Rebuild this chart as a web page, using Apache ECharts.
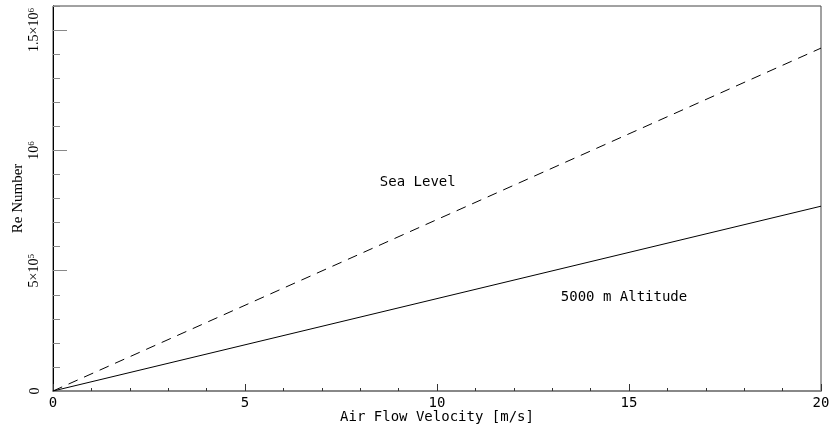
<!DOCTYPE html>
<html>
<head>
<meta charset="utf-8">
<script src="https://cdn.jsdelivr.net/npm/echarts@6/dist/echarts.min.js"></script>
<style>
  html, body { margin: 0; padding: 0; background: #fff; }
  #chart { width: 832px; height: 428px; }
</style>
</head>
<body>
<div id="chart"></div>
<script>
// values
const velocity = [0, 20];
const seaLevel = [0, 1425000];
const altitude5000 = [0, 768000];
const yLabelValues = [0, 500000, 1000000, 1500000];

const monoFont = 'DejaVu Sans Mono';
const serifFont = 'Liberation Serif';

const toPairs = (ys) => velocity.map((v, i) => [v, ys[i]]);

// y tick text like 5×10^5
const yLabel = function (v) {
    if (v === 0) return '0';
    if (v === 500000) return '5×10{sup|5}';
    if (v === 1000000) return '10{sup|6}';
    if (v === 1500000) return '1.5×10{sup|6}';
    return '';
};

const textMark = (text, coord) => ({
    symbol: 'circle',
    symbolSize: 1,
    itemStyle: { color: 'rgba(0,0,0,0)' },
    label: { show: true, position: 'inside', formatter: text, fontFamily: monoFont, fontSize: 14, color: '#000' },
    data: [{ coord: coord }]
});

const chart = echarts.init(document.getElementById('chart'));
const option = {
    animation: false,
    grid: {
        left: 53, right: 11, top: 6, bottom: 37,
        outerBoundsMode: 'none',
        containLabel: false,
        show: true,
        borderColor: '#444',
        borderWidth: 1
    },
    xAxis: [{
        type: 'value',
        min: 0, max: 20, interval: 5,
        name: 'Air Flow Velocity [m/s]',
        nameLocation: 'middle',
        nameGap: 19,
        nameMoveOverlap: false,
        nameTextStyle: { fontFamily: monoFont, fontSize: 14, color: '#000' },
        axisLine: { show: true, lineStyle: { color: '#888', width: 2 } },
        axisTick: { show: true, inside: true, length: 7, lineStyle: { color: '#333' } },
        minorTick: { show: true, splitNumber: 5, length: 3, lineStyle: { color: '#333' } },
        axisLabel: { margin: 5, fontFamily: monoFont, fontSize: 14, color: '#000' },
        splitLine: { show: false }
    }],
    yAxis: [{
        type: 'value',
        position: 'left',
        min: 0, max: 1600000,
        name: 'Re Number',
        nameLocation: 'middle',
        nameGap: 27,
        nameMoveOverlap: false,
        nameTextStyle: { fontFamily: serifFont, fontSize: 15, color: '#000' },
        axisLine: { show: true, lineStyle: { color: '#000', width: 1 } },
        axisTick: { show: true, inside: true, length: 14, customValues: yLabelValues, lineStyle: { color: '#888' } },
        axisLabel: {
            customValues: yLabelValues,
            rotate: 90,
            margin: 11,
            fontFamily: serifFont,
            fontSize: 14,
            color: '#000',
            formatter: yLabel,
            rich: {
                sup: { fontFamily: serifFont, fontSize: 9, color: '#000', padding: [0, 0, 6, 0] }
            }
        },
        splitLine: { show: false }
    }, {
        type: 'value',
        position: 'left',
        min: 0, max: 1600000, interval: 100000,
        axisLine: { show: false },
        axisTick: { show: true, inside: true, length: 7, lineStyle: { color: '#888' } },
        axisLabel: { show: false },
        splitLine: { show: false }
    }],
    series: [{
        name: 'Sea Level',
        type: 'line',
        data: toPairs(seaLevel),
        showSymbol: false,
        lineStyle: { color: '#000', width: 1, type: [10, 7] },
        markPoint: textMark('Sea Level', [9.5, 867000])
    }, {
        name: '5000 m Altitude',
        type: 'line',
        data: toPairs(altitude5000),
        showSymbol: false,
        lineStyle: { color: '#000', width: 1 },
        markPoint: textMark('5000 m Altitude', [14.87, 387500])
    }]
};
chart.setOption(option);
window.addEventListener('resize', () => chart.resize());
</script>
</body>
</html>
